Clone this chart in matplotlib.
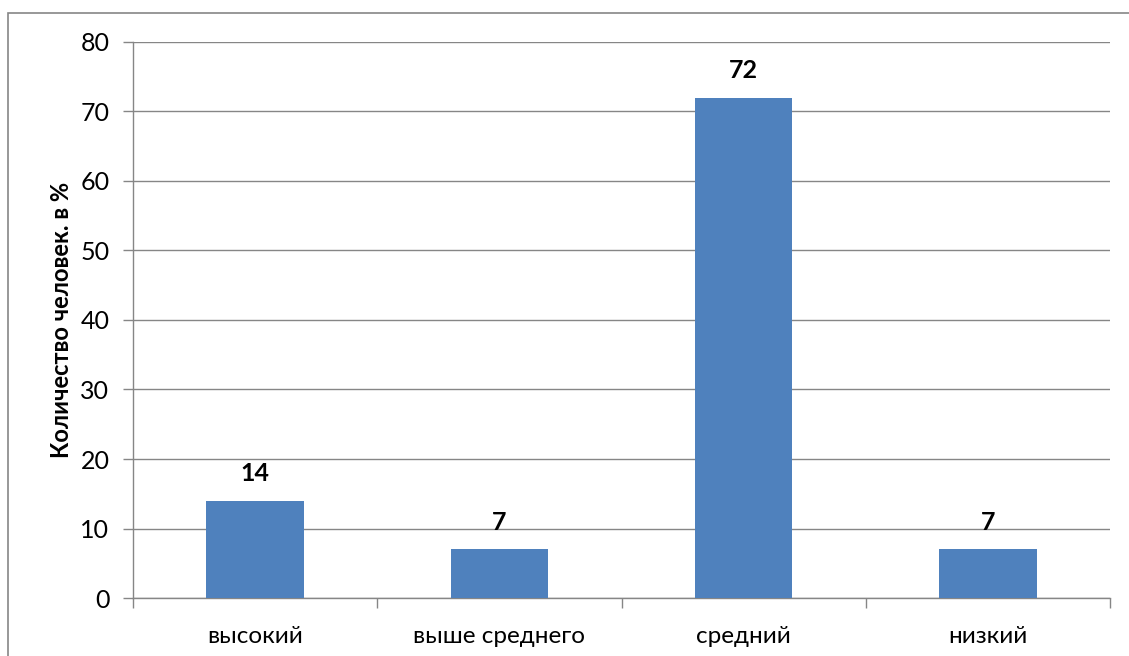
#!/usr/bin/env python
import matplotlib
matplotlib.use('Agg')
import matplotlib.pyplot as plt
from matplotlib.patches import Rectangle

categories = ['высокий', 'выше среднего', 'средний', 'низкий']
percent = [14, 7, 72, 7]
y_ticks = [0, 10, 20, 30, 40, 50, 60, 70, 80]

plt.rcParams['font.family'] = ['Lato', 'DejaVu Sans']

GRID = '#868686'
BAR = '#4F81BD'


def main():
    fig = plt.figure(figsize=(11.29, 6.56), dpi=100)
    ax = fig.add_axes([0.1178, 0.0884, 0.8654, 0.8476])

    x = list(range(len(categories)))
    ax.bar(x, percent, width=0.4, color=BAR, zorder=3)
    for xi, v in zip(x, percent):
        ax.annotate(str(v), (xi, v), xytext=(0, 11), textcoords='offset points',
                    ha='center', va='bottom', fontsize=18, fontweight='bold')

    ax.set_xlim(-0.5, len(categories) - 0.5)
    ax.set_ylim(0, 80)
    ax.set_yticks(y_ticks)
    ax.yaxis.grid(True, color=GRID, linewidth=1.0, zorder=0)
    ax.set_axisbelow(True)

    ax.set_xticks(x)
    ax.set_xticklabels(categories, fontsize=17.5)
    ax.set_xticks([i - 0.5 for i in range(len(categories) + 1)], minor=True)
    ax.tick_params(axis='x', which='major', length=0, pad=20)
    ax.tick_params(axis='x', which='minor', length=7, color=GRID, width=1)
    ax.tick_params(axis='y', length=7, color=GRID, width=1, labelsize=18, pad=10)

    for side in ('top', 'right'):
        ax.spines[side].set_visible(False)
    for side in ('left', 'bottom'):
        ax.spines[side].set_color(GRID)
        ax.spines[side].set_linewidth(1.0)

    ax.set_ylabel('Количество человек. в %', fontsize=17, fontweight='bold', labelpad=5)

    # outer chart frame
    fig.patches.append(Rectangle((8 / 1129, -0.1), 1.2, 1 - 13 / 656 + 0.1,
                                 transform=fig.transFigure, fill=False,
                                 edgecolor=GRID, linewidth=1.2))

    fig.savefig('out.png', dpi=100)


if __name__ == '__main__':
    main()
